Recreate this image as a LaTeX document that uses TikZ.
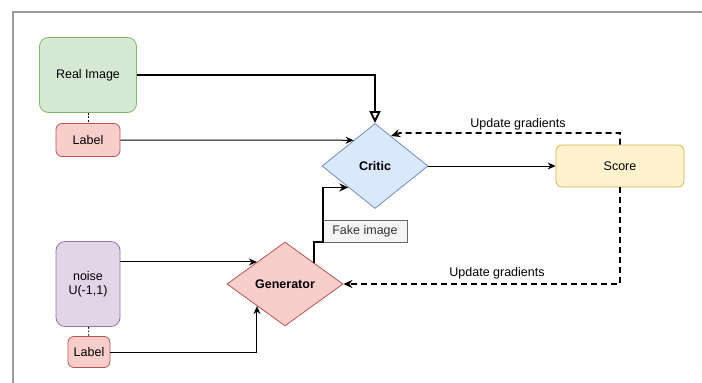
\documentclass[tikz,border=0pt]{standalone}
\usepackage{fontspec}
\setmainfont{Liberation Sans}
\usepackage{xcolor}
\usetikzlibrary{shapes.geometric,arrows.meta,calc}
\definecolor{realfill}{HTML}{D5E8D4}
\definecolor{realdraw}{HTML}{82B366}
\definecolor{labfill}{HTML}{F8CECC}
\definecolor{labdraw}{HTML}{B85450}
\definecolor{criticfill}{HTML}{DAE8FC}
\definecolor{criticdraw}{HTML}{6C8EBF}
\definecolor{scorefill}{HTML}{FFF2CC}
\definecolor{scoredraw}{HTML}{D6B656}
\definecolor{noisefill}{HTML}{E1D5E7}
\definecolor{noisedraw}{HTML}{9673A6}
\definecolor{frameline}{HTML}{9A9A9A}

\begin{document}
\begin{tikzpicture}[x=1pt, y=-1pt, every node/.style={font=\fontsize{12.5}{14}\selectfont},
  box/.style={draw, rounded corners=6pt, line width=0.8pt, inner sep=0pt, align=center},
  gate/.style={draw, diamond, line width=0.8pt, inner sep=0pt, font=\fontsize{12.5}{14}\selectfont\bfseries},
  link/.style={-{Stealth[length=8pt,width=7pt]}, line width=1pt},
  boldlink/.style={-{Stealth[length=9pt,width=8pt]}, line width=1.9pt},
  backlink/.style={-{Stealth[length=9pt,width=8pt]}, line width=1.9pt, dash pattern=on 6pt off 4pt},
  tie/.style={line width=0.8pt, dash pattern=on 2pt off 1.5pt}]
\useasboundingbox (0,0) rectangle (702,383);
\draw[frameline, line width=1.4pt] (13,383) -- (13,12) -- (702,12);
% inputs
\node[box, fill=realfill, draw=realdraw, rounded corners=9pt, minimum width=97pt, minimum height=75pt] (real) at (88,75) {Real Image};
\node[box, fill=labfill, draw=labdraw, minimum width=64pt, minimum height=33pt] (lab1) at (88,140) {Label};
\node[box, fill=noisefill, draw=noisedraw, rounded corners=9pt, minimum width=64pt, minimum height=85pt] (noise) at (88,284) {noise\\U(-1,1)};
\node[box, fill=labfill, draw=labdraw, minimum width=42pt, minimum height=31pt] (lab2) at (89,352) {Label};
% networks
\node[gate, fill=criticfill, draw=criticdraw, minimum width=106pt, minimum height=85pt] (critic) at (375,166) {Critic};
\node[gate, fill=labfill, draw=labdraw, minimum width=116pt, minimum height=84pt] (gen) at (285,284) {Generator};
\node[box, fill=scorefill, draw=scoredraw, minimum width=128pt, minimum height=42pt] (score) at (620,166) {Score};
\node[draw=black!60, fill=black!4, text=black!80, line width=0.8pt, minimum width=84pt, minimum height=22pt, inner sep=0pt] (fake) at (365,231) {Fake image};
% points on the diamond edges
\coordinate (cin1) at ($(critic.west)!0.6!(critic.north)$);
\coordinate (cin2) at ($(critic.west)!0.5!(critic.south)$);
\coordinate (cback) at ($(critic.north)!0.3!(critic.east)$);
\coordinate (cbend) at (400,133);
\coordinate (gin1) at ($(gen.west)!0.52!(gen.north)$);
\coordinate (gin2) at ($(gen.west)!0.52!(gen.south)$);
\coordinate (gout) at ($(gen.north)!0.5!(gen.east)$);
% connectors
\draw[tie] (real) -- (lab1);
\draw[tie] (noise) -- (lab2);
\draw[-{Triangle[open,length=12pt,width=11pt]}, line width=1.9pt] (real) -| (critic);
\draw[link] (lab1.east) -- (cin1);
\draw[link] (noise.east |- gin1) -- (gin1);
\draw[link] (lab2.east) -| (gin2);
\draw[boldlink] (gout) -- (gout |- fake.south west) -- (fake.south west) -- (fake.south west |- cin2) -- (cin2);
\draw[link] (critic) -- (score);
\draw[backlink] (score.north) |- (cbend) -- (cback);
\draw[backlink] (score.south) |- (gen.east);
\node (upd1) at (518,124) {Update gradients};
\node (upd2) at (497,273) {Update gradients};
\end{tikzpicture}
\end{document}
